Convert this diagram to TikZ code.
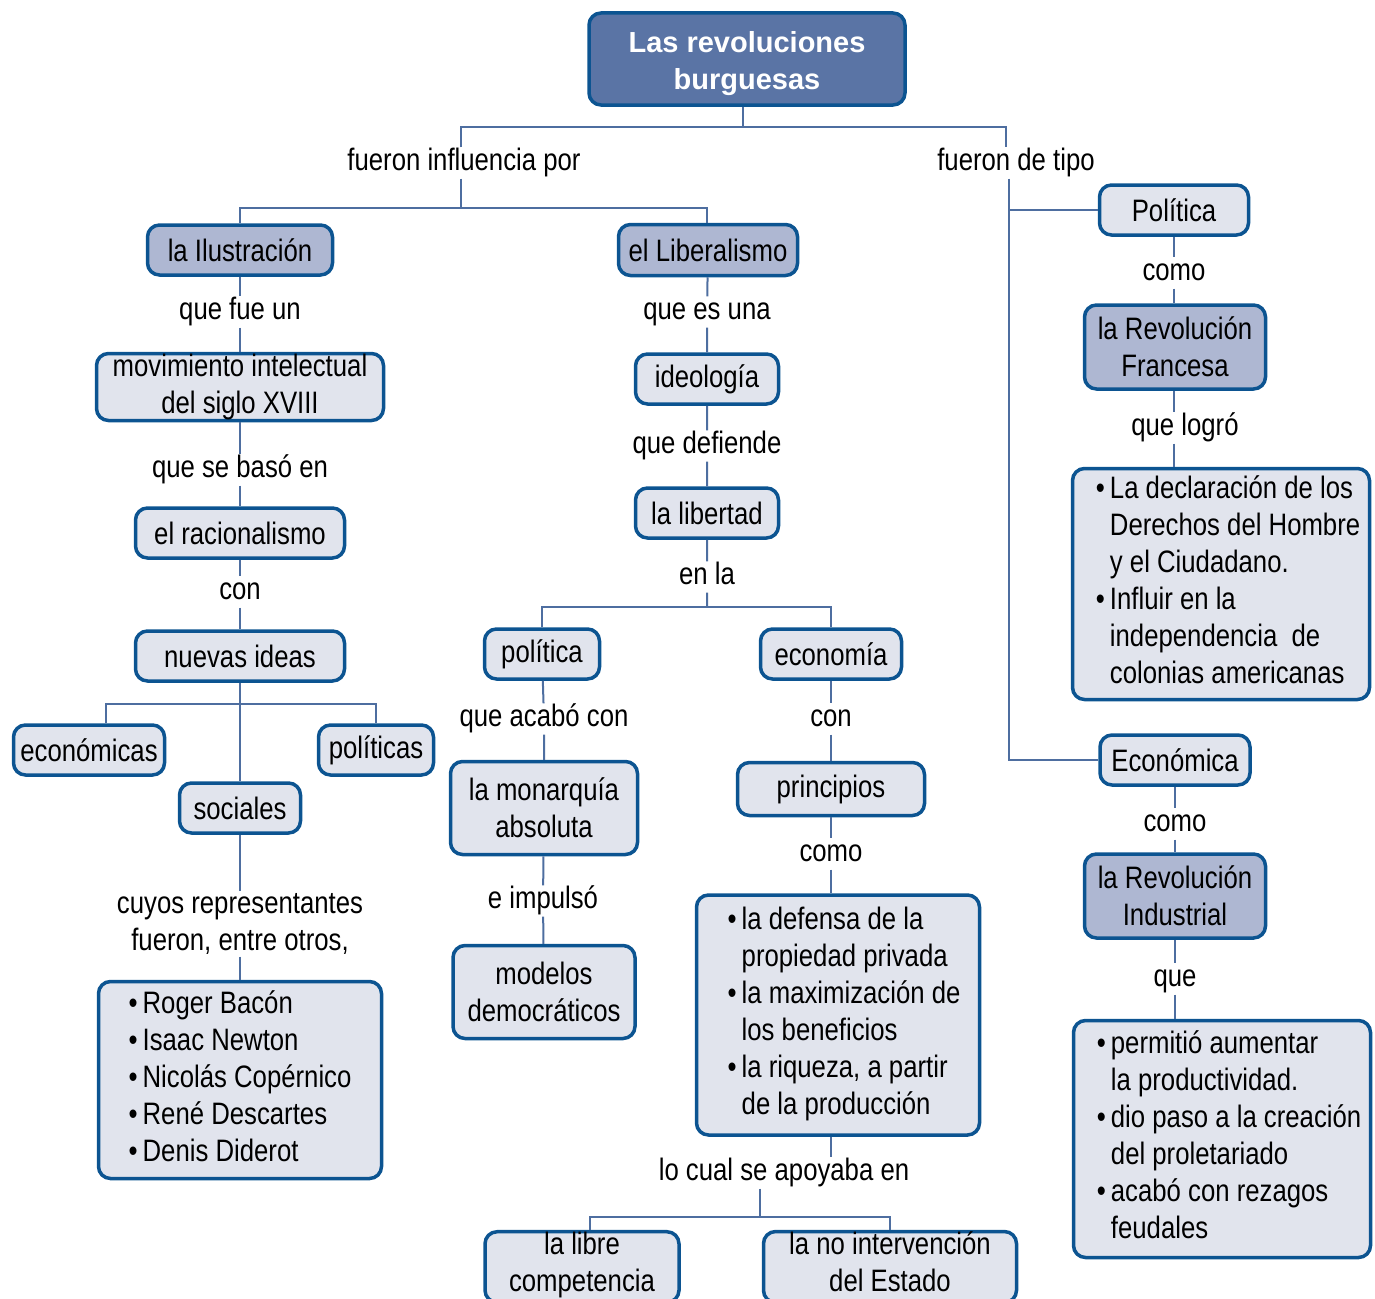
\documentclass[tikz,border=0pt]{standalone}
\usepackage{fontspec}
\setmainfont[FakeStretch=0.83]{Liberation Sans}
\newfontfamily\titlefont{Liberation Sans}
\usetikzlibrary{positioning}
\definecolor{frame}{RGB}{12,84,145}
\definecolor{wirecol}{RGB}{78,110,160}
\definecolor{ltfill}{RGB}{225,228,237}
\definecolor{midfill}{RGB}{174,183,210}
\definecolor{titfill}{RGB}{90,116,165}
\tikzset{tt/.style={draw=frame,line width=3.5pt,rounded corners=12pt,fill=titfill,text=white,align=center,inner sep=0pt,font=\titlefont\bfseries\fontsize{29}{37}\selectfont},
 mb/.style={draw=frame,line width=3.5pt,rounded corners=12pt,fill=midfill,align=center,inner sep=0pt},
 lb/.style={draw=frame,line width=3.5pt,rounded corners=12pt,fill=ltfill,align=center,inner sep=0pt},
 lst/.style={draw=frame,line width=3.5pt,rounded corners=12pt,fill=ltfill,inner sep=0pt},
 txt/.style={inner sep=2pt,text height=21pt,text depth=6pt},
 tx2/.style={inner sep=2pt,align=center},
 wire/.style={draw=wirecol,line width=2pt}}

\begin{document}
\begin{tikzpicture}[x=1pt,y=-1pt,font=\fontsize{31}{37}\selectfont]
\useasboundingbox (0,0) rectangle (1375,1298);
\clip (0,0) rectangle (1375,1298);
% top
\node[tt,minimum width=316,minimum height=92](top) at (747,59){\rule{0pt}{30pt}Las revoluciones\\burguesas};
\node[txt](infl) at (464,163){fueron influencia por};
\node[txt](tipo) at (1016,163){fueron de tipo};
\coordinate (b0) at (743,127);
\coordinate (b1) at (461,208);
\draw[wire](top.south -| b0)--(b0);
\draw[wire](infl.north -| b1)|-(b0)-|([xshift=-10]tipo.north);
\draw[wire](infl.south -| b1)--(b1);
% la Ilustracion
\node[mb,minimum width=185,minimum height=50](ilus) at (240,250){la Ilustración};
\node[txt](fue) at (240,312){que fue un};
\node[lb,minimum width=287,minimum height=67](movi) at (240,387){movimiento intelectual\\del siglo XVIII};
\node[txt](baso) at (240,470){que se basó en};
\node[lb,minimum width=209,minimum height=50](raci) at (240,533){el racionalismo};
\node[txt](con1) at (240,592){con};
\node[lb,minimum width=209,minimum height=50](nuev) at (240,656){nuevas ideas};
\node[lb,minimum width=151,minimum height=50](econ) at (89,750){económicas};
\node[lb,minimum width=115,minimum height=50](poli) at (376,750){políticas};
\node[lb,minimum width=121,minimum height=50](soci) at (240,808){sociales};
\node[tx2](cuyo) at (240,924){cuyos representantes\\fueron, entre otros,};
\node[lst,minimum width=283,minimum height=197](pers) at (240,1080){\begin{tabular}{@{}l@{\,}l@{}}
\textbullet&Roger Bacón\\
\textbullet&Isaac Newton\\
\textbullet&Nicolás Copérnico\\
\textbullet&René Descartes\\
\textbullet&Denis Diderot
\end{tabular}};
\coordinate (b2) at (240,704);
\draw[wire](ilus)--(fue)--(movi)--(baso)--(raci)--(con1)--(nuev);
\draw[wire](nuev)--(soci);
\draw[wire]([xshift=17]econ.north)|-(b2)-|(poli.north);
\draw[wire](soci)--(cuyo)--(pers);
% el Liberalismo
\node[mb,minimum width=179,minimum height=51](libe) at (708,250){el Liberalismo};
\node[txt](esuna) at (707,312){que es una};
\node[lb,minimum width=143,minimum height=50](ideo) at (707,379){ideología};
\node[txt](defi) at (707,446){que defiende};
\node[lb,minimum width=143,minimum height=50](libr) at (707,513){la libertad};
\node[txt](enla) at (707,577){en la};
\node[lb,minimum width=115,minimum height=50](pol) at (542,654){política};
\node[lb,minimum width=141,minimum height=50](eco) at (831,654){economía};
\node[txt](acab) at (544,719){que acabó con};
\node[lb,minimum width=187,minimum height=93](mona) at (544,808){la monarquía\\absoluta};
\node[txt](impu) at (543,901){e impulsó};
\node[lb,minimum width=182,minimum height=93](mode) at (544,992){modelos\\democráticos};
\node[txt](con2) at (831,719){con};
\node[lb,minimum width=187,minimum height=53](prin) at (831,789){principios};
\node[txt](como1) at (831,854){como};
\node[lst,minimum width=283,minimum height=240](riq) at (838,1015){\begin{tabular}{@{\hspace{12pt}}l@{\,}l@{}}
\textbullet&la defensa de la\\
&propiedad privada\\
\textbullet&la maximización de\\
&los beneficios\\
\textbullet&la riqueza, a partir\\
&de la producción
\end{tabular}};
\node[txt](apoy) at (784,1173){lo cual se apoyaba en};
\node[lb,minimum width=194,minimum height=68](comp) at (582,1267){la libre\\competencia\strut};
\node[lb,minimum width=253,minimum height=68](inte) at (890,1267){la no intervención\\del Estado\strut};
\coordinate (b3) at (707,607);
\coordinate (b4) at (760,1217);
\draw[wire]([xshift=-1]libe.north)|-(b1)-|(ilus.north);
\draw[wire](libe)--(esuna)--(ideo)--(defi)--(libr)--(enla)--(b3);
\draw[wire](pol.north)|-(b3)-|(eco.north);
\draw[wire](pol)--(acab)--(mona)--(impu)--(mode);
\draw[wire](eco)--(con2)--(prin)--(como1)--(como1 |- riq.north);
\draw[wire](riq.south -| como1)--(apoy.north -| como1);
\draw[wire](apoy.south -| b4)--(b4);
\draw[wire]([xshift=8]comp.north)|-(b4)-|(inte.north);
% fueron de tipo
\node[lb,minimum width=149,minimum height=50](polt) at (1174,210){Política};
\node[txt](como2) at (1174,273){como};
\node[mb,minimum width=181,minimum height=84](rfr) at (1175,347){la Revolución\\Francesa};
\node[txt](logr) at (1185,428){que logró};
\node[lst,minimum width=297,minimum height=231](decl) at (1221,584){\begin{tabular}{@{\hspace{14pt}}l@{\,}l@{}}
\textbullet&La declaración de los\\
&Derechos del Hombre\\
&y el Ciudadano.\\
\textbullet&Influir en la\\
&independencia\ \ de\\
&colonias americanas
\end{tabular}};
\node[lb,minimum width=150,minimum height=50](econt) at (1175,760){Económica};
\node[txt](como3) at (1175,824){como};
\node[mb,minimum width=181,minimum height=84](rind) at (1175,896){la Revolución\\Industrial};
\node[txt](que) at (1175,979){que};
\node[lst,minimum width=297,minimum height=237](perm) at (1222,1139){\begin{tabular}{@{\hspace{14pt}}l@{\,}l@{}}
\textbullet&permitió aumentar\\
&la productividad.\\
\textbullet&dio paso a la creación\\
&del proletariado\\
\textbullet&acabó con rezagos\\
&feudales
\end{tabular}};
\coordinate (b5) at (1009,0);
\draw[wire]([xshift=-7]tipo.south)|-(econt.west);
\draw[wire](polt.west)--(polt.west -| b5);
\draw[wire](polt)--(como2)--(como2 |- rfr.north);
\draw[wire](rfr.south -| como2)--(logr.north -| como2);
\draw[wire](logr.south -| como2)--(decl.north -| como2);
\draw[wire](econt)--(como3)--(rind)--(que)--(que |- perm.north);
\end{tikzpicture}
\end{document}
